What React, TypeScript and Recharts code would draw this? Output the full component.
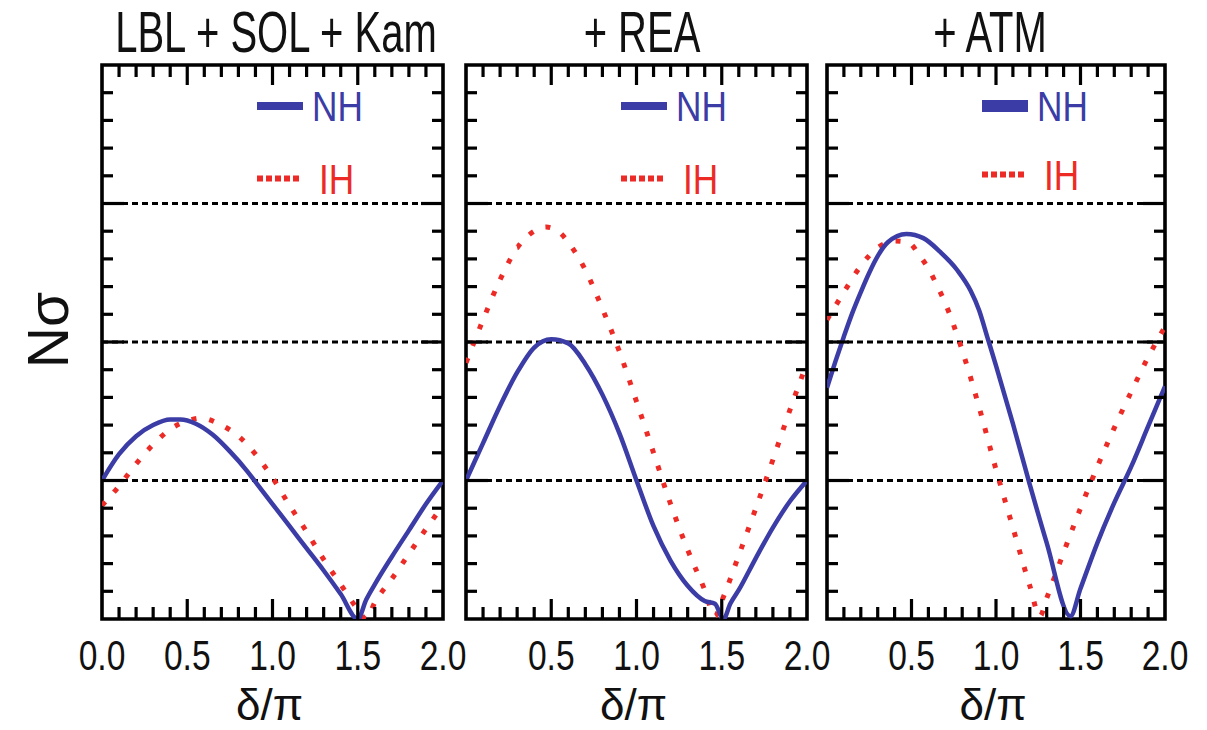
import React from 'react';
import { LineChart, Line, XAxis, YAxis, ReferenceLine, ReferenceArea } from 'recharts';

const BLUE = '#3b3ca6';
const RED = '#ec2b26';
const INK = '#111';
const FONT = '"Liberation Sans", Arial, Helvetica, sans-serif';

// Panel 1: LBL + SOL + Kam
const lblNhDelta = [0, 0.1, 0.2, 0.3, 0.4, 0.46, 0.55, 0.65, 0.75, 0.85, 0.9, 1.0, 1.1, 1.2, 1.3, 1.4, 1.5, 1.55, 1.6, 1.7, 1.8, 1.9, 2.0];
const lblNhSigma = [1.0, 1.19, 1.32, 1.40, 1.44, 1.44, 1.41, 1.33, 1.21, 1.07, 0.99, 0.83, 0.67, 0.51, 0.35, 0.18, 0.0, 0.14, 0.25, 0.45, 0.64, 0.83, 1.0];
const lblIhDelta = [0, 0.1, 0.2, 0.3, 0.4, 0.5, 0.58, 0.7, 0.8, 0.9, 1.0, 1.1, 1.2, 1.3, 1.4, 1.5, 1.55, 1.6, 1.7, 1.8, 1.9, 2.0];
const lblIhSigma = [0.82, 0.96, 1.12, 1.26, 1.37, 1.43, 1.45, 1.40, 1.32, 1.19, 1.02, 0.82, 0.63, 0.43, 0.25, 0.07, 0.0, 0.12, 0.29, 0.47, 0.65, 0.82];

// Panel 2: + REA
const reaNhDelta = [0, 0.1, 0.2, 0.3, 0.4, 0.5, 0.6, 0.7, 0.8, 0.9, 1.0, 1.1, 1.2, 1.3, 1.4, 1.46, 1.51, 1.55, 1.6, 1.7, 1.8, 1.9, 2.0];
const reaNhSigma = [1.0, 1.27, 1.54, 1.78, 1.96, 2.02, 1.99, 1.84, 1.62, 1.34, 1.0, 0.67, 0.42, 0.24, 0.13, 0.11, 0.0, 0.11, 0.21, 0.44, 0.66, 0.85, 1.0];
const reaIhDelta = [0, 0.1, 0.2, 0.3, 0.4, 0.47, 0.55, 0.6, 0.7, 0.8, 0.9, 1.0, 1.1, 1.2, 1.3, 1.4, 1.46, 1.5, 1.6, 1.7, 1.8, 1.9, 2.0];
const reaIhSigma = [1.85, 2.16, 2.45, 2.68, 2.80, 2.83, 2.79, 2.72, 2.52, 2.24, 1.93, 1.57, 1.20, 0.83, 0.50, 0.21, 0.02, 0.13, 0.46, 0.80, 1.15, 1.51, 1.85];

// Panel 3: + ATM
const atmNhDelta = [0, 0.05, 0.1, 0.15, 0.2, 0.25, 0.3, 0.36, 0.47, 0.57, 0.67, 0.77, 0.85, 0.9, 0.95, 1.0, 1.1, 1.2, 1.3, 1.44, 1.5, 1.6, 1.7, 1.8, 1.9, 2.0];
const atmNhSigma = [1.67, 1.86, 2.04, 2.21, 2.36, 2.50, 2.62, 2.72, 2.78, 2.75, 2.65, 2.52, 2.37, 2.23, 2.03, 1.83, 1.41, 0.97, 0.55, 0.02, 0.22, 0.55, 0.84, 1.10, 1.39, 1.68];
const atmIhDelta = [0, 0.1, 0.2, 0.3, 0.4, 0.48, 0.55, 0.6, 0.65, 0.7, 0.75, 0.8, 0.9, 1.0, 1.1, 1.2, 1.26, 1.3, 1.4, 1.5, 1.6, 1.7, 1.8, 1.9, 2.0];
const atmIhSigma = [2.16, 2.36, 2.55, 2.68, 2.73, 2.72, 2.62, 2.53, 2.41, 2.28, 2.12, 1.94, 1.53, 1.08, 0.66, 0.24, 0.02, 0.15, 0.48, 0.80, 1.10, 1.38, 1.64, 1.89, 2.11];

// Axis ticks and labels
const xTicks = [0, 0.1, 0.2, 0.3, 0.4, 0.5, 0.6, 0.7, 0.8, 0.9, 1.0, 1.1, 1.2, 1.3, 1.4, 1.5, 1.6, 1.7, 1.8, 1.9, 2.0];
const yTicks = [0, 0.2, 0.4, 0.6, 0.8, 1, 1.2, 1.4, 1.6, 1.8, 2, 2.2, 2.4, 2.6, 2.8, 3, 3.2, 3.4, 3.6, 3.8, 4];
const xLabelsFirst = [0, 0.5, 1, 1.5, 2];
const xLabelsOther = [0.5, 1, 1.5, 2];
const sigmaLevels = [1, 2, 3];
const panelTitles = ['LBL + SOL + Kam', '+ REA', '+ ATM'];
const legendNames = ['NH', 'IH'];
const xAxisTitle = 'δ/π';
const yAxisTitle = 'Nσ';

const zip = (d: number[], s: number[]) => d.map((x, i) => ({ delta: x, sigma: s[i] }));

// Layout
const W = 1207;
const H = 730;
const PLOT_TOP = 65;
const PLOT_BOTTOM = 619;
const PAD = 40;
const X_AXIS_H = 60;
const Y_AXIS_W = 20;

type PanelSpec = {
  title: string;
  titleX: number;
  left: number;
  right: number;
  nh: { delta: number; sigma: number }[];
  ih: { delta: number; sigma: number }[];
  labels: number[];
  barThick: number;
  ihShift: number;
};

const panels: PanelSpec[] = [
  { title: panelTitles[0], titleX: 276, left: 102, right: 443, nh: zip(lblNhDelta, lblNhSigma), ih: zip(lblIhDelta, lblIhSigma), labels: xLabelsFirst, barThick: 8, ihShift: 0 },
  { title: panelTitles[1], titleX: 642, left: 466, right: 807, nh: zip(reaNhDelta, reaNhSigma), ih: zip(reaIhDelta, reaIhSigma), labels: xLabelsOther, barThick: 8, ihShift: 0 },
  { title: panelTitles[2], titleX: 990, left: 827, right: 1165, nh: zip(atmNhDelta, atmNhSigma), ih: zip(atmIhDelta, atmIhSigma), labels: xLabelsOther, barThick: 12, ihShift: -4 },
];

const near = (a: number, b: number) => Math.abs(a - b) < 1e-6;

function Panel({ spec }: { spec: PanelSpec }) {
  const w = spec.right - spec.left;
  const plotL = PAD;
  const plotR = PAD + w;

  const renderXTick = (props: any) => {
    const { x, payload } = props;
    const v: number = payload.value;
    const edge = near(v, 0) || near(v, 2);
    const major = near(v * 2, Math.round(v * 2));
    const len = major ? 20 : 12;
    const show = spec.labels.some((l) => near(l, v));
    return (
      <g>
        {!edge && <line x1={x} x2={x} y1={PLOT_BOTTOM} y2={PLOT_BOTTOM - len} stroke="#000" strokeWidth={3.2} />}
        {!edge && <line x1={x} x2={x} y1={PLOT_TOP} y2={PLOT_TOP + len} stroke="#000" strokeWidth={3.2} />}
        {show && (
          <text transform={`translate(${x},670) scale(0.8,1)`} textAnchor="middle" fontSize={42} fontFamily={FONT} fill={INK}>
            {v.toFixed(1)}
          </text>
        )}
      </g>
    );
  };

  const renderYTick = (props: any) => {
    const { y, payload } = props;
    const v: number = payload.value;
    if (near(v, 0) || near(v, 4)) return <g />;
    const len = near(v, Math.round(v)) ? 22 : 11;
    return (
      <g>
        <line x1={plotL} x2={plotL + len} y1={y} y2={y} stroke="#000" strokeWidth={3.2} />
        <line x1={plotR - len} x2={plotR} y1={y} y2={y} stroke="#000" strokeWidth={3.2} />
      </g>
    );
  };

  return (
    <div style={{ position: 'absolute', left: spec.left - PAD, top: 0 }}>
      <LineChart
        width={w + 2 * PAD}
        height={H}
        margin={{ top: PLOT_TOP, bottom: H - PLOT_BOTTOM - X_AXIS_H, left: PAD - Y_AXIS_W, right: PAD }}
      >
        <XAxis type="number" dataKey="delta" domain={[0, 2]} ticks={xTicks} interval={0} height={X_AXIS_H} axisLine={false} tickLine={false} tick={renderXTick} allowDataOverflow />
        <YAxis type="number" domain={[0, 4]} ticks={yTicks} interval={0} width={Y_AXIS_W} axisLine={false} tickLine={false} tick={renderYTick} allowDataOverflow />
        {sigmaLevels.map((lv) => (
          <ReferenceLine key={lv} y={lv} stroke="#000" strokeWidth={3} strokeDasharray="6 4" />
        ))}
        <Line data={spec.ih} dataKey="sigma" type="monotone" stroke={RED} strokeWidth={5} strokeDasharray="5 13" dot={false} activeDot={false} isAnimationActive={false} />
        <Line data={spec.nh} dataKey="sigma" type="monotone" stroke={BLUE} strokeWidth={4.5} dot={false} activeDot={false} isAnimationActive={false} />
        <ReferenceArea x1={0} x2={2} y1={0} y2={4} fill="none" fillOpacity={0} stroke="#000" strokeWidth={3.6} />
      </LineChart>
    </div>
  );
}

export default function App() {
  return (
    <div style={{ position: 'absolute', left: 0, top: 0, width: W, height: H, background: '#fff', overflow: 'hidden' }}>
      {panels.map((p, i) => (
        <Panel key={i} spec={p} />
      ))}
      <svg width={W} height={H} style={{ position: 'absolute', left: 0, top: 0, pointerEvents: 'none' }}>
        {panels.map((p, i) => {
          const mid = (p.left + p.right) / 2;
          return (
            <g key={i}>
              <text transform={`translate(${p.titleX},52) scale(0.69,1)`} textAnchor="middle" fontSize={58} fontFamily={FONT} fill={INK}>
                {p.title}
              </text>
              <line x1={p.left + 155} x2={p.left + 201} y1={106} y2={106} stroke={BLUE} strokeWidth={p.barThick} />
              <text transform={`translate(${p.left + 210},121) scale(0.82,1)`} fontSize={43} fontFamily={FONT} fill={BLUE}>
                {legendNames[0]}
              </text>
              <line x1={p.left + 155} x2={p.left + 197} y1={178.5 + p.ihShift} y2={178.5 + p.ihShift} stroke={RED} strokeWidth={6} strokeDasharray="6 3" />
              <text transform={`translate(${p.left + 217},${194 + p.ihShift}) scale(0.82,1)`} fontSize={43} fontFamily={FONT} fill={RED}>
                {legendNames[1]}
              </text>
              <text x={mid - 3} y={720} textAnchor="middle" fontSize={44} fontFamily={FONT} fill={INK}>
                {xAxisTitle}
              </text>
            </g>
          );
        })}
        <text transform="translate(68,330) rotate(-90)" textAnchor="middle" fontSize={57} fontFamily={FONT} fill={INK}>
          {yAxisTitle}
        </text>
      </svg>
    </div>
  );
}
